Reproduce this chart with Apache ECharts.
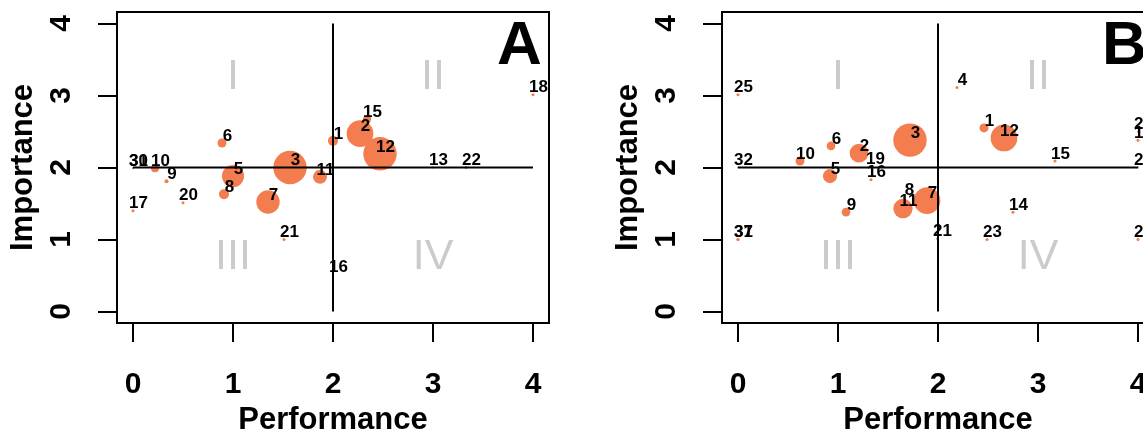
<!DOCTYPE html>
<html>
<head>
<meta charset="utf-8">
<script src="https://cdn.jsdelivr.net/npm/echarts@6/dist/echarts.min.js"></script>
<style>
html,body{margin:0;padding:0;overflow:hidden;background:#fff;}
#c{width:1170px;height:437px;}
</style>
</head>
<body>
<div id="c"></div>
<script>
// ---- Panel A data ----
const aIds    = ['1','2','3','5','6','7','8','9','10','11','12','13','15','16','17','18','20','21','22','30','31'];
const aPerf   = [2.00,2.27,1.57,1.00,0.89,1.35,0.91,0.335,0.22,1.87,2.47,3.00,2.34,2.00,0.00,4.00,0.50,1.51,3.33,0.00,0.00];
const aImp    = [2.37,2.47,2.00,1.88,2.34,1.52,1.63,1.81,1.99,1.87,2.19,2.00,2.67,0.51,1.40,3.01,1.51,1.00,2.00,1.99,1.99];
const aWeight = [3.0,8.0,10.0,6.6,2.7,7.0,3.0,1.2,2.4,4.2,10.0,0.6,2.4,0.6,0.9,0.9,0.9,0.9,0.9,0.6,0.6];

// ---- Panel B data ----
const bIds    = ['1','2','3','4','5','6','7','8','9','10','11','12','14','15','16','19','21','23','25','31','32','37','18','24','26','28'];
const bPerf   = [2.46,1.21,1.72,2.19,0.92,0.93,1.89,1.66,1.08,0.62,1.65,2.66,2.75,3.17,1.33,1.32,1.99,2.49,0.00,0.00,0.00,0.00,4.00,4.00,4.00,4.00];
const bImp    = [2.55,2.20,2.38,3.11,1.88,2.30,1.54,1.58,1.38,2.09,1.43,2.41,1.38,2.09,1.83,2.02,1.01,1.00,3.01,1.00,2.00,1.00,2.38,2.50,2.00,1.00];
const bWeight = [2.7,5.6,10.0,0.9,4.2,2.6,8.0,0.6,2.6,2.7,5.8,8.0,0.9,0.9,0.9,0.6,0.6,0.9,0.9,0.9,0.6,0.9,0.9,0.6,0.6,0.9];

// ---- Axes / quadrants ----
const tickValues = [0,1,2,3,4];
const splitValue = 2;
const axisRange = [0,4];
const romanLabels = ['I','II','III','IV'];
const romanPerf = [1,3,1,3];
const romanImp  = [3.25,3.25,0.75,0.75];
const panelLetters = ['A','B'];
const xName = 'Performance';
const yName = 'Importance';

const FONT = '"Liberation Sans", Arial, Helvetica, sans-serif';
const BUBBLE = '#F47D50';

function pts(ids, xs, ys, ws){ return ids.map((id,i)=>[xs[i], ys[i], ws[i], id]); }

const panels = [pts(aIds,aPerf,aImp,aWeight), pts(bIds,bPerf,bImp,bWeight)];
const gridLefts = [117, 722];

const chart = echarts.init(document.getElementById('c'), null, {renderer:'canvas'});

const grid = [], xAxis = [], yAxis = [], series = [], graphic = [];
panels.forEach((data, g) => {
  grid.push({left:gridLefts[g], top:12, width:432, height:311, show:true, borderColor:'#000', borderWidth:2, backgroundColor:'transparent', containLabel:false, outerBoundsMode:'none'});
  const common = {
    type:'value', min:-0.16, max:4.16, gridIndex:g,
    splitLine:{show:false},
    axisLine:{show:true, onZero:false, lineStyle:{color:'#000', width:2}},
    axisTick:{show:true, customValues:tickValues, length:19, inside:false, lineStyle:{color:'#000', width:2}},
    nameLocation:'middle', nameMoveOverlap:false,
    nameTextStyle:{fontFamily:FONT, fontWeight:'bold', fontSize:31, color:'#000'}
  };
  xAxis.push(Object.assign({}, common, {
    name:xName, nameGap:82,
    axisLabel:{customValues:tickValues, margin:47, fontFamily:FONT, fontWeight:'bold', fontSize:30, color:'#000', hideOverlap:false}
  }));
  yAxis.push(Object.assign({}, common, {
    name:yName, nameGap:78, nameRotate:90,
    axisLabel:{customValues:tickValues, rotate:90, margin:40, fontFamily:FONT, fontWeight:'bold', fontSize:30, color:'#000', hideOverlap:false}
  }));
  // bubbles
  series.push({type:'scatter', xAxisIndex:g, yAxisIndex:g, z:2, data:data,
    symbolSize:v=>v[2]*3.34, itemStyle:{color:BUBBLE, opacity:1}, emphasis:{disabled:true}, silent:true, animation:false});
  // quadrant lines
  series.push({type:'line', xAxisIndex:g, yAxisIndex:g, z:3, symbol:'none', silent:true, animation:false,
    data:[[splitValue,axisRange[0]],[splitValue,axisRange[1]]], lineStyle:{color:'#000', width:2}});
  series.push({type:'line', xAxisIndex:g, yAxisIndex:g, z:3, symbol:'none', silent:true, animation:false,
    data:[[axisRange[0],splitValue],[axisRange[1],splitValue]], lineStyle:{color:'#000', width:2}});
  // roman numerals
  series.push({type:'scatter', xAxisIndex:g, yAxisIndex:g, z:1, symbolSize:0, silent:true, animation:false,
    data:romanLabels.map((r,i)=>[romanPerf[i], romanImp[i], r]),
    itemStyle:{color:'transparent'},
    label:{show:true, position:'inside', formatter:p=>p.value[2], fontFamily:FONT, fontSize:43, color:'#BEBEBE', textBorderWidth:0}});
  // point labels (placed up-right of each point)
  series.push({type:'scatter', xAxisIndex:g, yAxisIndex:g, z:4, symbolSize:0, silent:true, animation:false,
    data:data, itemStyle:{color:'transparent'},
    label:{show:true, position:[5.5,-7], align:'center', verticalAlign:'middle', formatter:p=>p.value[3], fontFamily:FONT, fontWeight:'bold', fontSize:17, color:'#000',
      textBorderWidth:0, textBorderColor:'transparent', opacity:1},
    labelLayout:{hideOverlap:false}});
  graphic.push({type:'text', left:gridLefts[g]+380, top:16, z:10,
    style:{text:panelLetters[g], font:'bold 62px '+FONT, fill:'#000'}});
});

chart.setOption({animation:false, grid, xAxis, yAxis, series, graphic});
</script>
</body>
</html>
